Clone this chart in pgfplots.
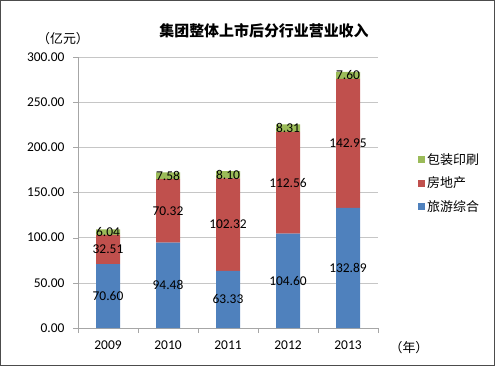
\documentclass[border=0pt]{standalone}
\usepackage{fontspec}
\setmainfont{Carlito}
\newfontfamily\cjk{Noto Sans CJK SC}
\usepackage{pgfplots}
\pgfplotsset{compat=1.18}
\usepackage{pgfplotstable}
\definecolor{cblue}{HTML}{4F81BD}
\definecolor{cred}{HTML}{C0504D}
\definecolor{cgreen}{HTML}{9BBB59}
\newcommand\fs{\fontsize{13.5}{16}\selectfont}
\newcommand\fc{\cjk\fontsize{13}{16}\selectfont}

\pgfplotstableread{
x tour real pack
0 70.60 32.51 6.04
1 94.48 70.32 7.58
2 63.33 102.32 8.10
3 104.60 112.56 8.31
4 132.89 142.95 7.60
}\datatable

\begin{document}
\begin{tikzpicture}[x=1bp,y=1bp]
\useasboundingbox (0,0) rectangle (495,366);
\draw[gray!60!black, line width=0.8bp] (0.5,0.5) rectangle (494.5,365.5);
\begin{axis}[
  at={(78bp,38bp)}, anchor=south west,
  scale only axis, width=300bp, height=271bp,
  xmin=-0.5, xmax=4.5, ymin=0, ymax=300,
  ybar stacked, bar width=0.4,
  axis lines*=left, axis line style={-, draw=gray!70},
  ytick={0,50,...,300},
  ymajorgrids, grid style={gray!45},
  /pgf/number format/assume math mode=true,
  yticklabel style={/pgf/number format/.cd, fixed, fixed zerofill, precision=2, /tikz/.cd, font=\fs, xshift=-5bp},
  xtick={0,1,2,3,4}, xticklabels={2009,2010,2011,2012,2013},
  xticklabel style={font=\fs, yshift=-4bp},
  major x tick style={draw=none},
  minor xtick={-0.5,0.5,1.5,2.5,3.5,4.5},
  minor x tick style={draw=gray!70},
  major y tick style={draw=gray!70},
  tick align=outside, major tick length=5bp, minor tick length=5bp,
  legend image code/.code={\fill[#1] (0bp,-3.5bp) rectangle (7bp,3.5bp);},
  reverse legend,
  legend style={at={(1,0.535)}, anchor=west, xshift=40bp, draw=none, fill=none,
    font=\fc, row sep=7bp, inner sep=0pt},
  legend cell align=left,
]
\addplot[fill=cblue, draw=none] table[x=x, y=tour] {\datatable};
\addplot[fill=cred, draw=none] table[x=x, y=real] {\datatable};
\addplot[fill=cgreen, draw=none] table[x=x, y=pack] {\datatable};
\legend{旅游综合,房地产,包装印刷}
\end{axis}
\begin{axis}[
  at={(78bp,38bp)}, anchor=south west,
  scale only axis, width=300bp, height=271bp,
  xmin=-0.5, xmax=4.5, ymin=0, ymax=300,
  hide axis,
  nodes near coords, point meta=explicit symbolic,
  every node near coord/.style={anchor=center, font=\fs, text=black, inner sep=0pt},
]
\addplot[draw=none, mark=none] table[x=x, y expr=\thisrow{tour}/2, meta=tour] {\datatable};
\addplot[draw=none, mark=none] table[x=x, y expr=\thisrow{tour}+\thisrow{real}/2, meta=real] {\datatable};
\addplot[draw=none, mark=none] table[x=x, y expr=\thisrow{tour}+\thisrow{real}+\thisrow{pack}/2, meta=pack] {\datatable};
\end{axis}
\node[font=\cjk\bfseries\fontsize{15}{18}\selectfont] at (264,335) {集团整体上市后分行业营业收入};
\node[font=\fc] at (63,327) {（亿元）};
\node[font=\fc] at (409,18) {（年）};
\end{tikzpicture}
\end{document}
